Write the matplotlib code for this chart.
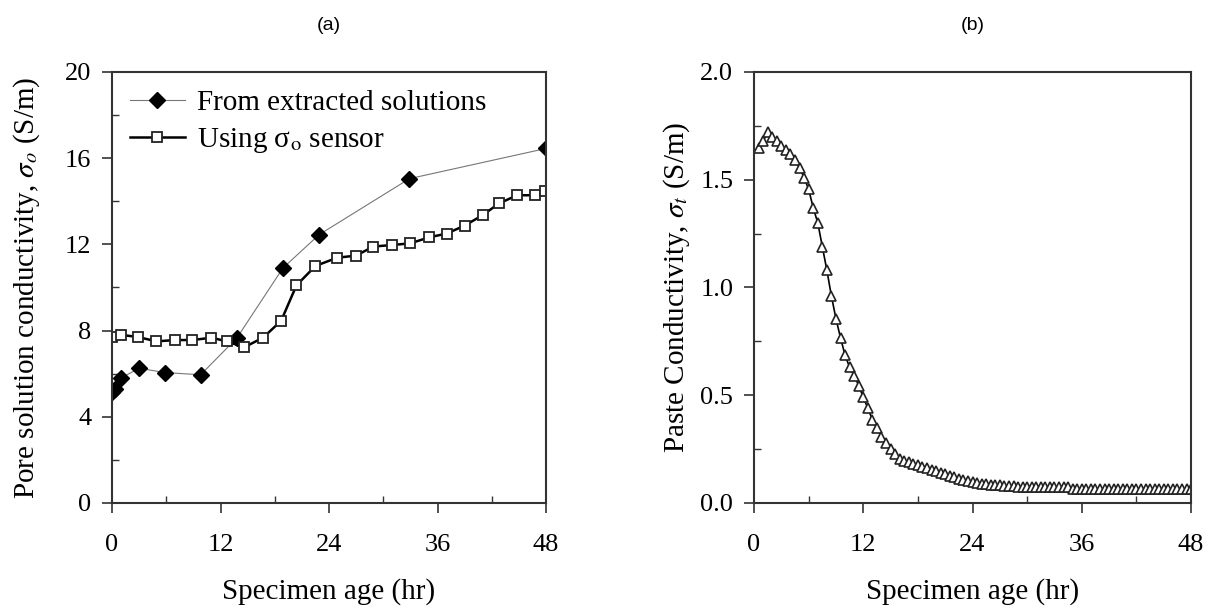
import matplotlib
matplotlib.use("Agg")
import matplotlib.pyplot as plt
from matplotlib.ticker import MultipleLocator, FormatStrFormatter

plt.rcParams['font.family'] = ['Liberation Serif', 'DejaVu Serif']
plt.rcParams['mathtext.fontset'] = 'stix'

# (a) pore solution conductivity
ext_age = [0.0, 0.3, 1.0, 3.0, 5.9, 9.8, 13.8, 18.9, 22.9, 32.9, 48.0]
ext_sigma = [5.15, 5.3, 5.8, 6.25, 6.05, 5.95, 7.65, 10.9, 12.45, 15.05, 16.45]

sensor_age = [0.0, 1.0, 2.9, 4.9, 7.0, 8.9, 11.0, 12.7, 14.6, 16.7, 18.7, 20.4, 22.5,
              24.9, 27.0, 28.9, 31.0, 33.0, 35.1, 37.0, 39.0, 41.0, 42.8, 44.8, 46.8, 47.9]
sensor_sigma = [7.7, 7.8, 7.7, 7.5, 7.56, 7.56, 7.67, 7.5, 7.22, 7.67, 8.45, 10.1, 11.0,
                11.38, 11.48, 11.9, 11.97, 12.05, 12.33, 12.5, 12.87, 13.36, 13.9, 14.28, 14.28, 14.48]

# (b) paste conductivity, one reading every half hour
paste_age = [0.5 * (i + 1) for i in range(96)]
paste_sigma = [1.645, 1.68, 1.72, 1.70, 1.68, 1.655, 1.637, 1.618, 1.59, 1.555,
               1.51, 1.455, 1.37, 1.30, 1.19, 1.08, 0.96, 0.855, 0.766, 0.685,
               0.63, 0.59, 0.545, 0.49, 0.44, 0.386, 0.347, 0.308, 0.28, 0.25,
               0.225, 0.205, 0.195, 0.188, 0.182, 0.176, 0.168, 0.161, 0.155, 0.147,
               0.14, 0.133, 0.127, 0.12, 0.113, 0.106, 0.10, 0.097, 0.094, 0.09,
               0.087, 0.084, 0.083, 0.082, 0.08, 0.079, 0.077, 0.076, 0.076, 0.076,
               0.076, 0.076, 0.075, 0.075, 0.075, 0.075, 0.075, 0.075, 0.075, 0.066,
               0.066, 0.066, 0.066, 0.066, 0.066, 0.066, 0.066, 0.066, 0.066, 0.066,
               0.066, 0.066, 0.066, 0.066, 0.066, 0.066, 0.066, 0.066, 0.066, 0.066,
               0.066, 0.066, 0.066, 0.066, 0.066, 0.066]

fig = plt.figure(figsize=(12.15, 6.11), dpi=100)
ax1 = fig.add_axes([0.0922, 0.1768, 0.3572, 0.7054])
ax2 = fig.add_axes([0.6206, 0.1768, 0.3597, 0.7054])

ax1.plot(ext_age, ext_sigma, color='#777777', lw=0.8, marker='D', ms=8,
         mfc='black', mec='black', label='From extracted solutions')
ax1.plot(sensor_age, sensor_sigma, color='black', lw=1.8, marker='s', ms=6.5,
         mfc='white', mec='#222222', mew=1.3, label='Using σ$_\\mathrm{o}$ sensor')
ax1.set_ylim(0, 20)
ax1.yaxis.set_major_locator(MultipleLocator(4))
ax1.yaxis.set_minor_locator(MultipleLocator(2))
ax1.set_ylabel('Pore solution conductivity, $\\sigma_o$ (S/m)', fontsize=21, labelpad=16)
ax1.legend(loc='upper left', frameon=False, fontsize=21, handlelength=1.9,
           labelspacing=0.35, borderaxespad=0.2, handletextpad=0.4)

ax2.plot(paste_age, paste_sigma, color='black', lw=1.2, marker='^', ms=6.5,
         mfc='white', mec='#222222', mew=1.2)
ax2.set_ylim(0, 2.0)
ax2.yaxis.set_major_locator(MultipleLocator(0.5))
ax2.yaxis.set_minor_locator(MultipleLocator(0.25))
ax2.yaxis.set_major_formatter(FormatStrFormatter('%.1f'))
ax2.set_ylabel('Paste Conductivity, $\\sigma_t$ (S/m)', fontsize=21, labelpad=6)

for ax, tag in [(ax1, '(a)'), (ax2, '(b)')]:
    ax.set_xlim(0, 48)
    ax.xaxis.set_major_locator(MultipleLocator(12))
    ax.xaxis.set_minor_locator(MultipleLocator(6))
    ax.set_xlabel('Specimen age (hr)', fontsize=21, labelpad=16)
    ax.tick_params(which='major', direction='out', length=7, width=1.2,
                   labelsize=19, color='#333333')
    ax.tick_params(axis='x', which='major', pad=15)
    ax.tick_params(axis='y', which='major', pad=8)
    ax.tick_params(which='minor', direction='in', length=5, width=1.0, color='#333333')
    for sp in ax.spines.values():
        sp.set_linewidth(1.5)
        sp.set_color('#333333')
    ax.set_title(tag, fontsize=14, family=['Liberation Sans'], pad=30)

fig.savefig('out.png', dpi=100)
